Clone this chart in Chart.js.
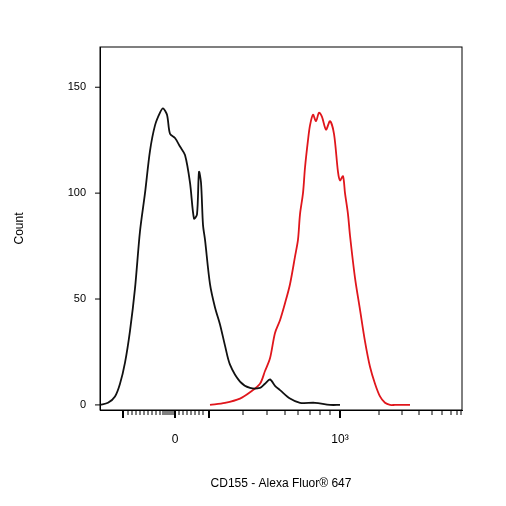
<!DOCTYPE html>
<html>
<head>
<script src="https://cdn.jsdelivr.net/npm/chart.js@4"></script>
<style>
  body { margin: 0; background: #fff; }
  #wrap { width: 506px; height: 506px; }
</style>
</head>
<body>
<div id="wrap"><canvas id="myChart"></canvas></div>
<script>
// x in display channels of the biexponential axis
const isotypeX = [0, 8, 15, 20, 25, 30, 35, 40, 45, 50, 55, 60, 63, 67, 70, 75, 80, 85, 90, 94, 97, 99, 101, 103, 105, 110, 115, 120, 125, 130, 140, 150, 160, 165, 170, 175, 180, 190, 200, 215, 230, 240];
const isotypeY = [0, 1, 4, 10, 20, 35, 55, 82, 100, 120, 132, 138, 140, 137, 128, 126, 122, 118, 105, 88, 90, 110, 105, 85, 78, 57, 46, 38, 28, 19, 11, 8, 8, 10, 12, 9, 7, 3, 1, 1, 0, 0];
const cd155X = [110, 125, 140, 150, 160, 165, 170, 175, 180, 185, 190, 195, 198, 200, 203, 205, 208, 210, 213, 216, 219, 222, 226, 230, 234, 238, 240, 243, 245, 248, 250, 255, 260, 265, 270, 275, 280, 285, 290, 295, 300, 310];
const cd155Y = [0, 1, 3, 6, 10, 16, 22, 34, 40, 48, 57, 70, 78, 90, 100, 112, 125, 132, 137, 134, 138, 136, 130, 134, 128, 110, 106, 108, 100, 90, 80, 60, 45, 30, 18, 10, 4, 1, 0, 0, 0, 0];
const majorTicks = [23, 75, 109, 240];
const minorTicks = [28, 32, 36, 40, 44, 48, 52, 56, 60, 63, 65, 67, 69, 71, 73, 79, 83, 87, 91, 95, 99, 103, 143, 167, 185, 198, 210, 220, 230, 279, 302, 319, 332, 342, 351, 357, 361];
const xLabels = { 75: '0', 240: '10³' };
const yTicks = [0, 50, 100, 150];

const toPts = (xs, ys) => xs.map((x, i) => ({ x: x, y: ys[i] }));

const xTickMarks = {
  id: 'xTickMarks',
  afterDraw(chart) {
    const ctx = chart.ctx;
    const sx = chart.scales.x;
    const y0 = chart.chartArea.bottom;
    ctx.save();
    ctx.strokeStyle = '#000';
    ctx.lineWidth = 2;
    majorTicks.forEach(v => {
      const p = sx.getPixelForValue(v);
      ctx.beginPath(); ctx.moveTo(p, y0); ctx.lineTo(p, y0 + 8); ctx.stroke();
    });
    ctx.lineWidth = 1;
    minorTicks.forEach(v => {
      const p = sx.getPixelForValue(v);
      ctx.beginPath(); ctx.moveTo(p, y0); ctx.lineTo(p, y0 + 5); ctx.stroke();
    });
    ctx.restore();
  }
};

new Chart(document.getElementById('myChart').getContext('2d'), {
  type: 'line',
  data: {
    datasets: [
      { label: 'Isotype', data: toPts(isotypeX, isotypeY), borderColor: '#111', borderWidth: 1.8, pointRadius: 0, tension: 0.3, fill: false },
      { label: 'CD155', data: toPts(cd155X, cd155Y), borderColor: '#e0161c', borderWidth: 1.8, pointRadius: 0, tension: 0.3, fill: false }
    ]
  },
  options: {
    responsive: true,
    maintainAspectRatio: false,
    animation: false,
    layout: { padding: { top: 47, right: 44, left: 0, bottom: 0 } },
    plugins: { legend: { display: false }, tooltip: { enabled: false } },
    scales: {
      x: {
        type: 'linear', min: 0, max: 362,
        border: { display: true, color: '#000', width: 1 },
        grid: { display: false },
        afterBuildTicks: (s) => { s.ticks = [{ value: 75 }, { value: 240 }]; },
        ticks: { callback: (v) => xLabels[v] || '', color: '#000', font: { family: 'Liberation Sans', size: 12 }, padding: 14, maxRotation: 0 },
        title: { display: true, text: 'CD155 - Alexa Fluor® 647', color: '#000', font: { family: 'Liberation Sans', size: 12 }, padding: { top: 22, bottom: 15 } },
        afterFit: (s) => { s.height = 96; }
      },
      y: {
        min: -2.4, max: 169,
        border: { display: true, color: '#000', width: 1 },
        grid: { display: false, drawOnChartArea: false },
        afterBuildTicks: (s) => { s.ticks = yTicks.map(v => ({ value: v })); },
        ticks: { color: '#000', font: { family: 'Liberation Sans', size: 11 }, padding: 6 },
        title: { display: true, text: 'Count', color: '#000', font: { family: 'Liberation Sans', size: 12 }, padding: { top: 12, bottom: 40 } },
        afterFit: (s) => { s.width = 100; }
      }
    }
  },
  plugins: [xTickMarks, {
    id: 'frame',
    afterDraw(chart) {
      const a = chart.chartArea, ctx = chart.ctx;
      ctx.save();
      ctx.strokeStyle = '#000'; ctx.lineWidth = 1;
      ctx.strokeRect(a.left, a.top, a.right - a.left, a.bottom - a.top);
      const sy = chart.scales.y;
      yTicks.forEach(v => {
        const p = sy.getPixelForValue(v);
        ctx.beginPath(); ctx.moveTo(a.left - 5, p); ctx.lineTo(a.left, p); ctx.stroke();
      });
      ctx.restore();
    }
  }]
});
</script>
</body>
</html>
